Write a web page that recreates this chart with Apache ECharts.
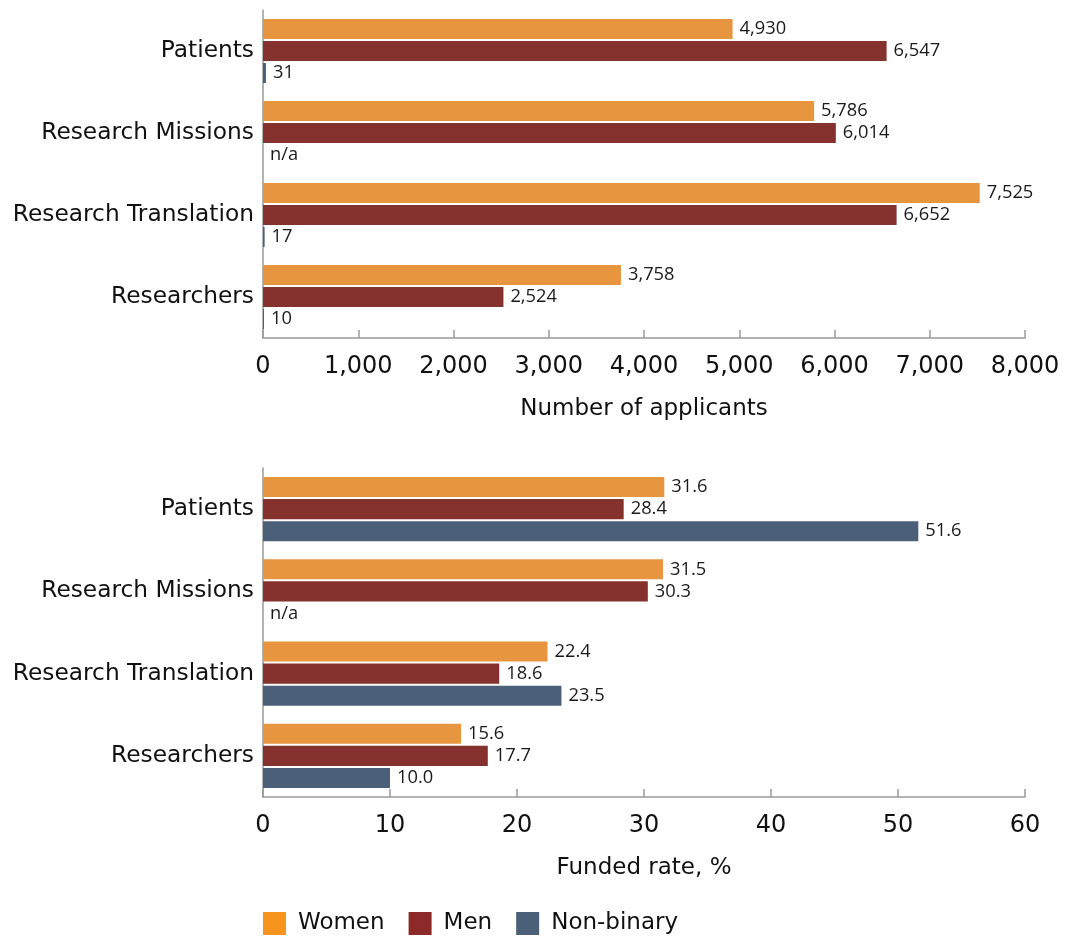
<!DOCTYPE html>
<html><head><meta charset="utf-8">
<script src="https://cdn.jsdelivr.net/npm/echarts@6/dist/echarts.min.js"></script>
<style>html,body{margin:0;padding:0;background:#fff}#c{width:1068px;height:940px}</style>
</head><body><div id="c"></div>
<script>
const categories = ['Patients', 'Research Missions', 'Research Translation', 'Researchers'];
const seriesNames = ['Women', 'Men', 'Non-binary'];
const applicantsWomen = [4930, 5786, 7525, 3758];
const applicantsMen = [6547, 6014, 6652, 2524];
const applicantsNonBinary = [31, null, 17, 10];
const fundedWomen = [31.6, 31.5, 22.4, 15.6];
const fundedMen = [28.4, 30.3, 18.6, 17.7];
const fundedNonBinary = [51.6, null, 23.5, 10.0];
const applicantTicks = {min: 0, max: 8000, interval: 1000};
const fundedTicks = {min: 0, max: 60, interval: 10};

const barColors = ['#E8953F', '#85312D', '#4B5F78'];
const legendColors = ['#F7941D', '#8B2A27', '#4A6079'];
const FONT = 'DejaVu Sans';
const LFONT = 'Open Sans';

function prep(arr) {
  return arr.map(v => v === null ? {value: 0, label: {formatter: 'n/a'}} : v);
}
function mk(name, idx, data, axisIdx, fmt) {
  return {
    type: 'bar', name: name, xAxisIndex: axisIdx, yAxisIndex: axisIdx,
    data: prep(data), barGap: '10%', barCategoryGap: '22%',
    itemStyle: {color: barColors[idx]},
    label: {show: true, position: 'right', distance: 7, fontFamily: LFONT, fontSize: 18.3, color: '#1a1a1a',
      formatter: p => fmt(p.value)},
    emphasis: {disabled: true}
  };
}
const fmtThousands = v => v.toLocaleString('en-US');
const fmtOne = v => v.toFixed(1);

function xAx(idx, ticks, name, labFmt) {
  return {
    type: 'value', gridIndex: idx, min: ticks.min, max: ticks.max, interval: ticks.interval,
    name: name, nameLocation: 'middle', nameGap: 60,
    nameTextStyle: {fontFamily: FONT, fontSize: 23, color: '#111'},
    axisLine: {show: true, lineStyle: {color: '#9a9a9a', width: 1.5}},
    axisTick: {show: true, inside: true, length: 8, lineStyle: {color: '#9a9a9a', width: 1.5}},
    axisLabel: {fontFamily: FONT, fontSize: 24, color: '#111', margin: 17, formatter: labFmt},
    splitLine: {show: false}
  };
}
function yAx(idx) {
  return {
    type: 'category', gridIndex: idx, data: categories, inverse: true,
    axisLine: {show: true, lineStyle: {color: '#9a9a9a', width: 1.5}},
    axisTick: {show: false},
    axisLabel: {fontFamily: FONT, fontSize: 23.3, color: '#111', margin: 9}
  };
}

const chart = echarts.init(document.getElementById('c'), null, {renderer: 'canvas'});
chart.setOption({
  animation: false,
  grid: [
    {left: 263, right: 43, top: 10, height: 328},
    {left: 263, right: 43, top: 468, height: 329}
  ],
  xAxis: [xAx(0, applicantTicks, 'Number of applicants', v => fmtThousands(v)),
          xAx(1, fundedTicks, 'Funded rate, %', v => String(v))],
  yAxis: [yAx(0), yAx(1)],
  legend: {
    left: 263, top: 912, padding: 0, itemWidth: 23, itemHeight: 23, itemGap: 24, icon: 'rect',
    textStyle: {fontFamily: FONT, fontSize: 23, color: '#111', padding: [4, 0, 0, 7]},
    data: seriesNames.map((n, i) => ({name: n, itemStyle: {color: legendColors[i]}}))
  },
  series: [
    mk('Women', 0, applicantsWomen, 0, fmtThousands),
    mk('Men', 1, applicantsMen, 0, fmtThousands),
    mk('Non-binary', 2, applicantsNonBinary, 0, fmtThousands),
    mk('Women', 0, fundedWomen, 1, fmtOne),
    mk('Men', 1, fundedMen, 1, fmtOne),
    mk('Non-binary', 2, fundedNonBinary, 1, fmtOne)
  ]
});
</script></body></html>
